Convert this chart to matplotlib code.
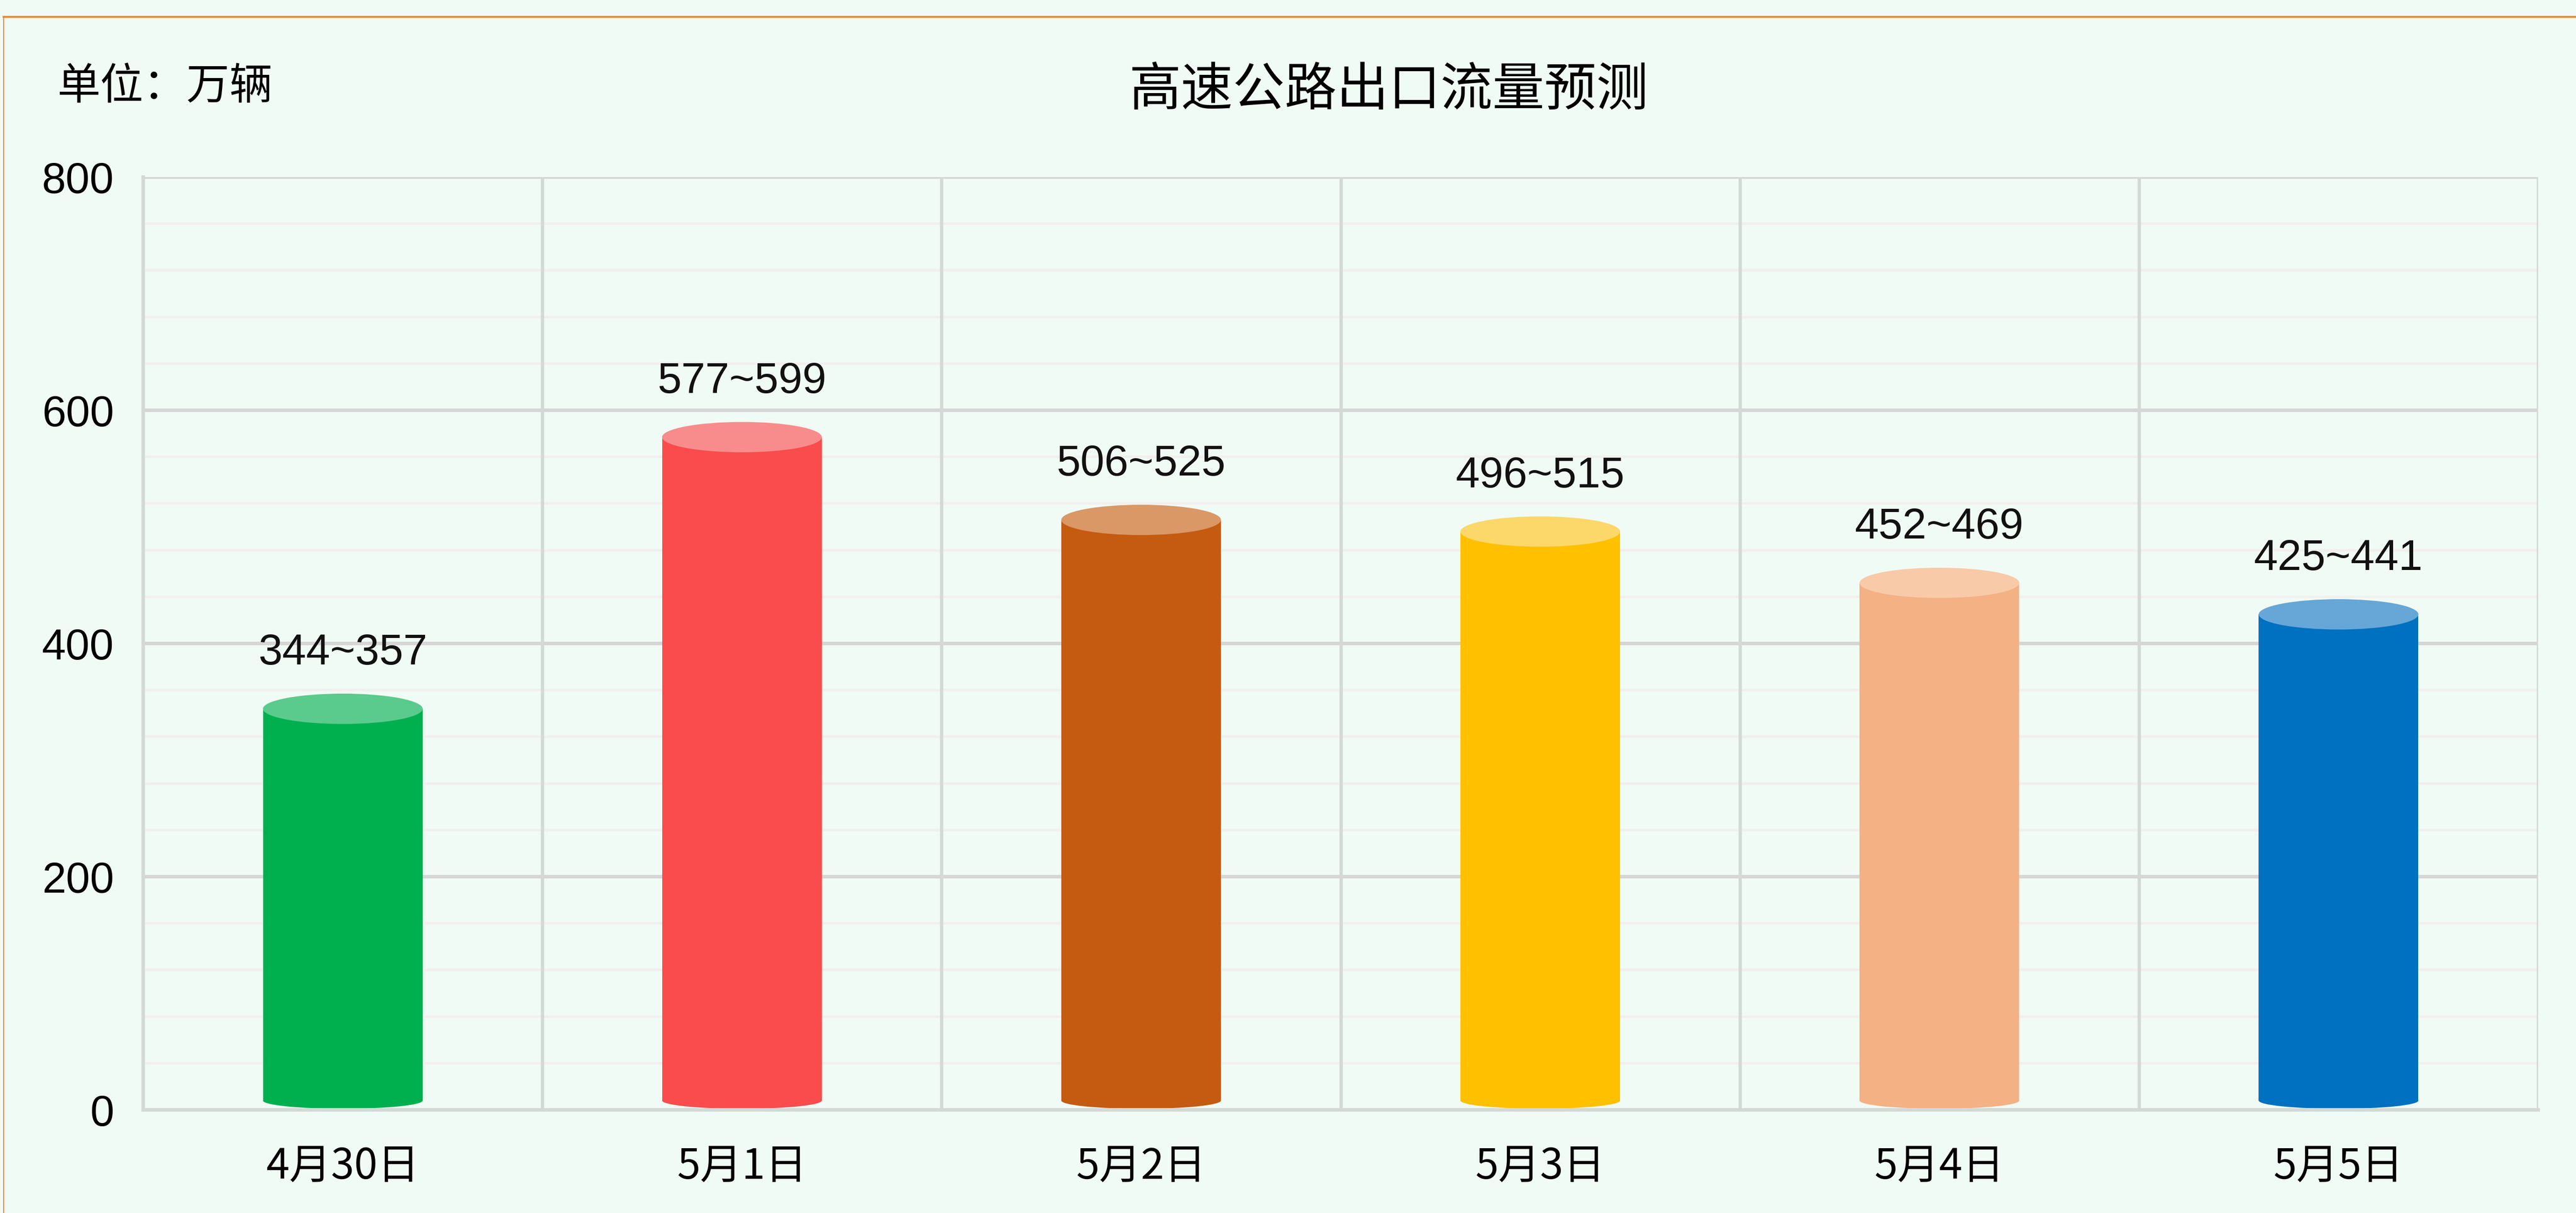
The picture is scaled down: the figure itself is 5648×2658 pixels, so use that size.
import numpy as np
import matplotlib
matplotlib.use("Agg")
import matplotlib.pyplot as plt
from matplotlib.patches import Ellipse
from matplotlib.lines import Line2D

# data
days = ["4月30日", "5月1日", "5月2日", "5月3日", "5月4日", "5月5日"]
low = [344, 577, 506, 496, 452, 425]
high = [357, 599, 525, 515, 469, 441]
body_colors = ["#00B04F", "#FA4C4C", "#C55A11", "#FFC000", "#F4B183", "#0070C0"]
cap_colors = ["#5ACB8C", "#F88C8C", "#D99866", "#FCD76A", "#F8CAA8", "#66A7D7"]

bg = "#F1FBF5"
cjk = ["Noto Sans CJK SC", "DejaVu Sans"]
latin = ["Liberation Sans", "DejaVu Sans"]

fig = plt.figure(figsize=(28.24, 13.29), dpi=200, facecolor=bg)
ax = fig.add_axes([0.0556, 0.0850, 0.9297, 0.7690])
ax.set_facecolor(bg)

x = np.arange(len(days))
width = 0.4
base = 8          # bottom ellipse centre
cap_h = 26        # top ellipse height (data units)

ax.set_xlim(-0.5, len(days) - 0.5)
ax.set_ylim(0, 800)

# grid: minor every 40, major every 200, verticals between categories
for y in np.arange(40, 800, 40):
    if y % 200:
        ax.axhline(y, color="#F2EFEF", lw=2.0, zorder=0)
for y in (200, 400, 600, 800):
    ax.axhline(y, color="#D6D6D6", lw=2.8, zorder=0.5)
for xv in np.arange(0.5, len(days), 1.0):
    ax.axvline(xv, color="#D3DAD6", lw=2.6, zorder=0.5)

for s in ["top", "right"]:
    ax.spines[s].set_visible(False)
for s in ["left", "bottom"]:
    ax.spines[s].set_color("#D3DAD6")
    ax.spines[s].set_linewidth(2.8)

# cylinders
vals = np.array(low)
ax.bar(x, vals - base, bottom=base, width=width, color=body_colors,
       zorder=2, linewidth=0)
for xi, v, bc, cc in zip(x, vals, body_colors, cap_colors):
    ax.add_patch(Ellipse((xi, base), width, 14, facecolor=bc, lw=0, zorder=2))
    ax.add_patch(Ellipse((xi, v), width, cap_h, facecolor=cc, lw=0, zorder=3))

for xi, lo, hi in zip(x, low, high):
    ax.annotate(f"{lo}~{hi}", (xi, lo), xytext=(0, 35), textcoords="offset points",
                ha="center", va="baseline", fontsize=34, family=latin,
                color="#111111", zorder=4)

ax.set_xticks(x)
ax.set_xticklabels(days, fontsize=33, family=cjk)
ax.set_yticks([0, 200, 400, 600, 800])
ax.set_yticklabels(["0", "200", "400", "600", "800"], fontsize=34, family=latin)
ax.tick_params(axis="x", length=0, pad=28)
ax.tick_params(axis="y", length=0, pad=23)

fig.text(0.539, 1 - 198 / 2658, "高速公路出口流量预测", fontsize=41, family=cjk,
         ha="center", va="center")
fig.text(126 / 5648, 1 - 190 / 2658, "单位：万辆", fontsize=34, family=cjk,
         ha="left", va="center")

# orange frame edges
fig.add_artist(Line2D([8 / 5648, 1], [1 - 37 / 2658] * 2,
                      transform=fig.transFigure, color="#F0872E", lw=1.6))
fig.add_artist(Line2D([8 / 5648] * 2, [0, 1 - 37 / 2658],
                      transform=fig.transFigure, color="#F0872E", lw=0.8))

fig.savefig("out.png", dpi=200, facecolor=bg)
